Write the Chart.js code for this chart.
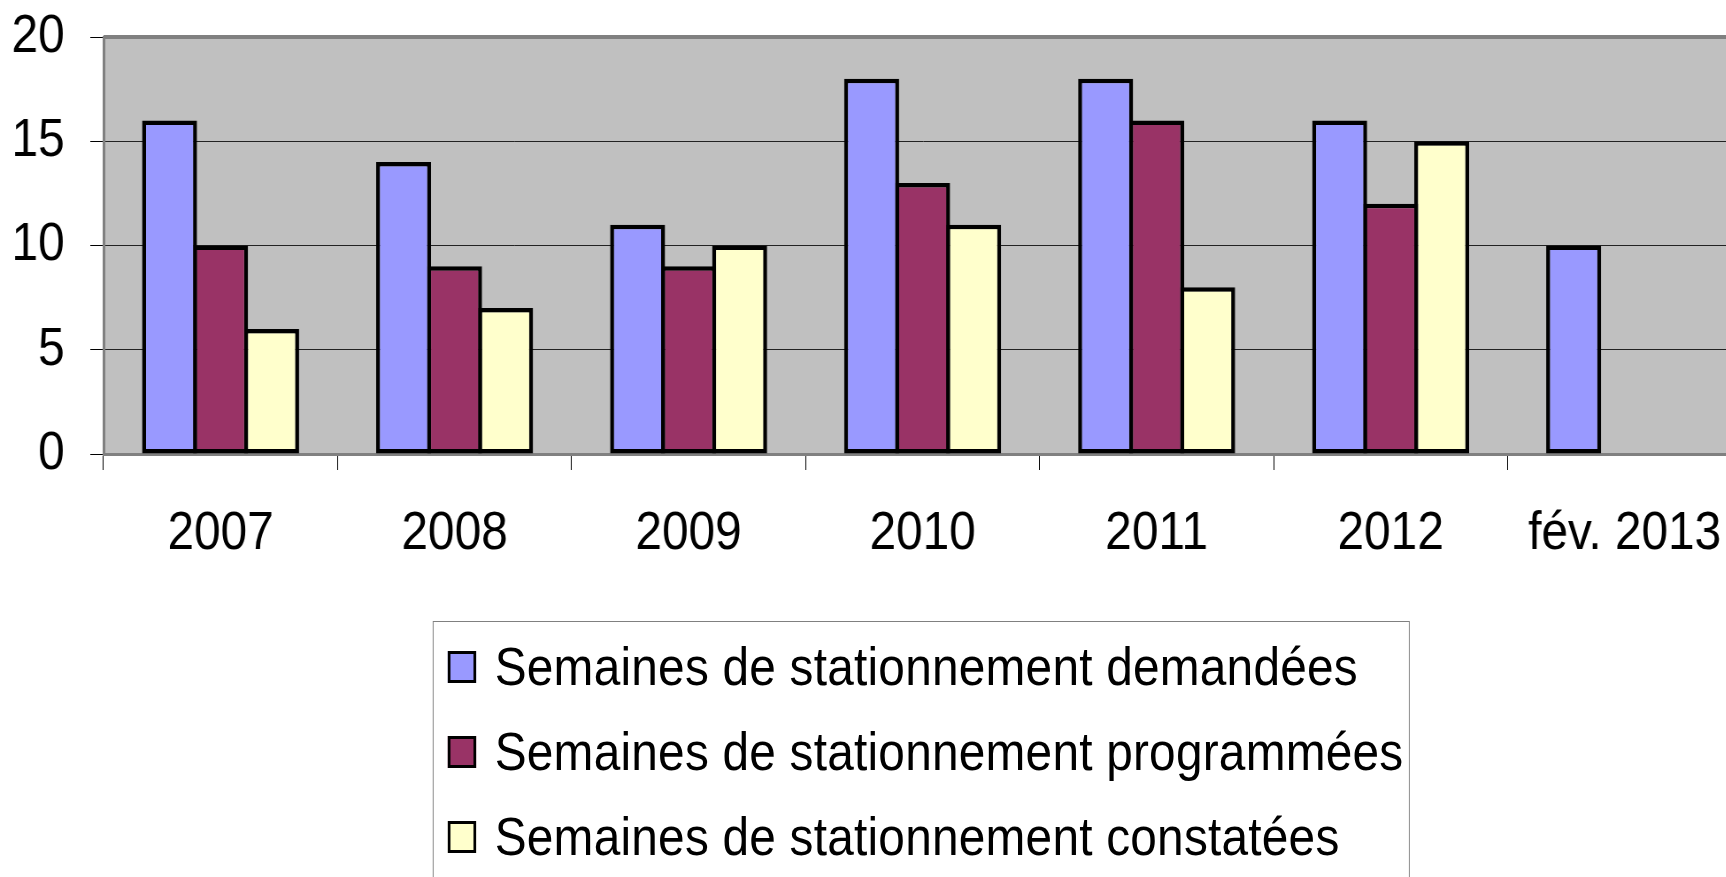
<!DOCTYPE html>
<html>
<head>
<meta charset="utf-8">
<script src="https://cdn.jsdelivr.net/npm/chart.js@4"></script>
<style>
  html, body { margin: 0; padding: 0; background: #fff; overflow: hidden; width: 1726px; height: 877px; }
  #wrap { position: absolute; left: 0; top: 0; width: 1972px; height: 877px; transform: scaleX(0.885); transform-origin: 0 0; }
  #myChart { position: absolute; left: 0; top: 0; }
  #legend { position: absolute; left: 489px; top: 621px; width: 1102px; height: 300px; border: 1.5px solid #808080; padding-top: 2px; font-family: 'Liberation Sans', Arial, sans-serif; font-size: 54px; letter-spacing: 0.25px; color: #000; }
  .row { display: flex; align-items: center; height: 85px; line-height: 85px; padding-left: 16px; white-space: nowrap; }
  .box { width: 32px; height: 32px; box-sizing: border-box; border: 3.5px solid #000; margin-right: 21px; flex: none; }
</style>
</head>
<body>
<div id="wrap">
  <canvas id="myChart" width="1972" height="600"></canvas>
  <div id="legend"></div>
</div>
<script>
const categories = ['2007', '2008', '2009', '2010', '2011', '2012', 'fév. 2013'];
const demandees = [16, 14, 11, 18, 18, 16, 10];
const programmees = [10, 9, 9, 13, 16, 12, null];
const constatees = [6, 7, 10, 11, 8, 15, null];
const seriesNames = [
    'Semaines de stationnement demandées',
    'Semaines de stationnement programmées',
    'Semaines de stationnement constatées'
];
const yTicks = [0, 5, 10, 15, 20];

const seriesValues = [demandees, programmees, constatees];
const colors = ['#9999ff', '#993366', '#ffffcc'];

const plotFrame = {
    id: 'plotFrame',
    beforeDraw(chart) {
        const { ctx, chartArea: a } = chart;
        ctx.save();
        ctx.fillStyle = '#c0c0c0';
        ctx.fillRect(a.left, a.top, a.right - a.left, a.bottom - a.top);
        ctx.restore();
    },
    afterDraw(chart) {
        const { ctx, chartArea: a } = chart;
        ctx.save();
        ctx.strokeStyle = '#808080';
        ctx.lineWidth = 4;
        ctx.beginPath();
        ctx.moveTo(a.left, a.top);
        ctx.lineTo(a.right, a.top);
        ctx.stroke();
        ctx.restore();
    }
};

const font = { family: "'Liberation Sans', Arial, sans-serif", size: 54, lineHeight: 1 };

// bars overlap by one border width so neighbours share a single outline
const data = {
    labels: categories,
    datasets: seriesValues.map((vals, i) => ({
        label: seriesNames[i],
        data: vals,
        backgroundColor: colors[i],
        borderColor: '#000',
        borderWidth: 4.5,
        borderSkipped: false,
        categoryPercentage: 0.654,
        barPercentage: 1.078
    }))
};

const ctx = document.getElementById('myChart');
const myChart = new Chart(ctx, {
    type: 'bar',
    data: data,
    plugins: [plotFrame],
    options: {
        responsive: false,
        animation: false,
        devicePixelRatio: 1,
        layout: { padding: { top: 37, right: 4, left: 0, bottom: 0 } },
        plugins: {
            legend: { display: false },
            tooltip: { enabled: false }
        },
        scales: {
            x: {
                offset: true,
                grid: { offset: true, drawOnChartArea: false, drawTicks: true, tickLength: 16, color: '#000', lineWidth: 1 },
                border: { color: '#808080', width: 3 },
                ticks: { font: font, color: '#000', padding: 37, maxRotation: 0, autoSkip: false },
                afterFit(scale) {
                    scale.height = 146;
                    scale.paddingLeft = 0;
                    scale.paddingRight = 0;
                }
            },
            y: {
                min: yTicks[0],
                max: yTicks[yTicks.length - 1],
                afterBuildTicks(scale) { scale.ticks = yTicks.map(v => ({ value: v })); },
                grid: {
                    color: c => (c.tick && (c.tick.value === 0 || c.tick.value === 20)) ? 'rgba(0,0,0,0)' : '#222',
                    tickColor: '#000',
                    lineWidth: 1,
                    tickLength: 15
                },
                border: { color: '#808080', width: 3 },
                ticks: { font: font, color: '#000', padding: 29 },
                afterFit(scale) {
                    scale.width = 117;
                    scale.paddingTop = 0;
                    scale.paddingBottom = 0;
                }
            }
        }
    }
});

// legend drawn as a boxed list below the plot
const legend = document.getElementById('legend');
seriesNames.forEach((name, i) => {
    const row = document.createElement('div');
    row.className = 'row';
    const box = document.createElement('span');
    box.className = 'box';
    box.style.background = colors[i];
    const txt = document.createElement('span');
    txt.textContent = name;
    row.appendChild(box);
    row.appendChild(txt);
    legend.appendChild(row);
});
</script>
</body>
</html>
